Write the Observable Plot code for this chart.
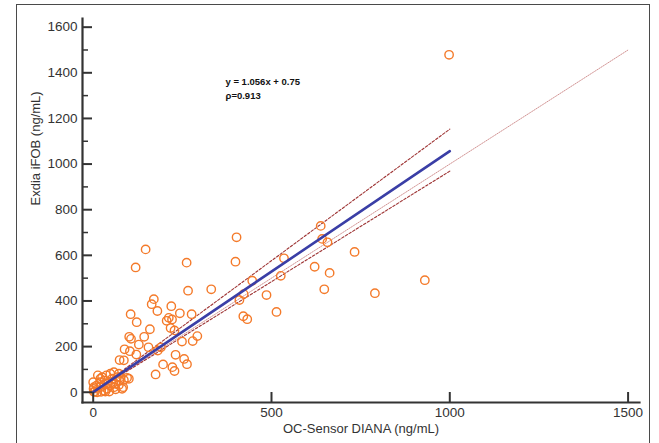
<!DOCTYPE html>
<html><head><meta charset="utf-8">
<script src="https://cdn.jsdelivr.net/npm/d3@7"></script>
<script src="https://cdn.jsdelivr.net/npm/@observablehq/plot@0.6"></script>
<style>
body{margin:0;background:#fff;overflow:hidden;}
#wrap{position:relative;width:659px;height:443px;}
#wrap svg{position:absolute;left:0;top:0;}
#border{position:absolute;left:16px;top:4px;width:634px;height:470px;border:1.5px solid #4a4a4a;box-sizing:border-box;pointer-events:none;}
</style></head><body><div id="wrap"></div>
<script>
// OC-Sensor DIANA (x) and Exdia iFOB (y), ng/mL
const ocSensor = [998,402,147,119,262,399,638,642,657,535,733,621,526,663,446,930,648,790,331,266,
  170,164,180,219,105,122,243,276,212,206,221,217,159,228,101,106,143,128,155,88,
  103,121,74,86,190,181,249,292,279,231,196,175,222,228,255,263,486,422,410,514,
  421,432,
  0,2,2,13,25,19,32,37,48,58,67,76,86,95,62,48,39,30,20,11,5,58,72,81,42,53,72,22,34,1,45,63,84,100,20,9,74,56,30];
const exdia = [1479,679,626,547,568,572,729,672,657,587,615,550,510,523,489,491,451,434,451,445,
  408,386,356,377,342,307,346,342,326,313,319,281,276,271,243,234,243,209,197,188,
  180,165,141,140,197,183,222,246,224,164,122,78,110,93,146,123,426,430,404,352,
  333,320,
  44,2,22,74,66,44,51,74,81,88,66,66,54,63,37,29,15,7,22,0,3,22,32,15,40,59,81,2,3,15,3,13,22,59,59,29,51,40,34];

const xTicks = [0, 500, 1000, 1500];
const yTicks = [0, 200, 400, 600, 800, 1000, 1200, 1400, 1600];
const yMinorTicks = [100, 300, 500, 700, 900, 1100, 1300, 1500];

const slope = 1.056, intercept = 0.75;
const upperSlope = 1.153, lowerSlope = 0.969;
const fitRange = [0, 1000];
const identityRange = [0, 1500];
const equationText = "y = 1.056x + 0.75";
const rhoText = "ρ=0.913";
const xTitle = "OC-Sensor DIANA (ng/mL)";
const yTitle = "Exdia iFOB (ng/mL)";

const points = ocSensor.map((x, i) => ({x, y: exdia[i]}));
const fitLine = fitRange.map(x => ({x, y: slope * x + intercept}));
const upperLine = fitRange.map(x => ({x, y: upperSlope * x}));
const lowerLine = fitRange.map(x => ({x, y: lowerSlope * x}));
const identity = identityRange.map(x => ({x, y: x}));

const W = 659, H = 443, mL = 82, mR = 20, mT = 18, mB = 41;
const plotW = W - mL - mR, plotH = H - mT - mB;
const fmt = d => String(d);

const chart = Plot.plot({
  width: W, height: H,
  marginLeft: mL, marginRight: mR, marginTop: mT, marginBottom: mB,
  style: {fontFamily: "'Liberation Sans', Arial, sans-serif", fontSize: "13.5px", color: "#333", background: "transparent"},
  x: {domain: [-30, 1532], axis: null},
  y: {domain: [-45, 1638], axis: null},
  marks: [
    Plot.line(identity, {x: "x", y: "y", stroke: "#c98080", strokeWidth: 1, strokeDasharray: "1,1.2", strokeOpacity: 0.85}),
    Plot.line(upperLine, {x: "x", y: "y", stroke: "#9e3434", strokeWidth: 1.1, strokeDasharray: "2.5,1.8"}),
    Plot.line(lowerLine, {x: "x", y: "y", stroke: "#9e3434", strokeWidth: 1.1, strokeDasharray: "2.5,1.8"}),
    Plot.dot(points, {x: "x", y: "y", r: 4.2, stroke: "#f47a2a", strokeWidth: 1.4, fill: "none"}),
    Plot.line(fitLine, {x: "x", y: "y", stroke: "#3a3ea6", strokeWidth: 2.6}),
    Plot.frame({anchor: "left", stroke: "#333", strokeWidth: 2.2}),
    Plot.frame({anchor: "bottom", stroke: "#333", strokeWidth: 2.2}),
    Plot.tickY(yTicks, {y: d => d, insetRight: plotW - 10, stroke: "#333", strokeWidth: 2}),
    Plot.tickY(yMinorTicks, {y: d => d, insetRight: plotW - 6, stroke: "#333", strokeWidth: 1.5}),
    Plot.tickX(xTicks, {x: d => d, insetTop: plotH - 10, stroke: "#333", strokeWidth: 2}),
    Plot.axisX(xTicks, {tickSize: 0, tickPadding: 5, label: null, fill: "#333", tickFormat: fmt}),
    Plot.axisY(yTicks, {tickSize: 0, tickPadding: 5, label: null, fill: "#333", tickFormat: fmt}),
    Plot.text([xTitle], {frameAnchor: "bottom", dy: 30, fontSize: 13, fill: "#333"}),
    Plot.text([yTitle], {frameAnchor: "left", dx: -47, dy: -5, rotate: -90, fontSize: 13, fill: "#333"}),
    Plot.text([equationText + "\n" + rhoText], {frameAnchor: "top-left", dx: 143, dy: 57, textAnchor: "start", lineAnchor: "top", fontWeight: "bold", fontSize: 9.5, lineHeight: 1.45, fill: "#111"})
  ]
});
const wrap = document.getElementById("wrap");
wrap.appendChild(chart);
const b = document.createElement("div"); b.id = "border"; wrap.appendChild(b);
</script>
</body></html>
